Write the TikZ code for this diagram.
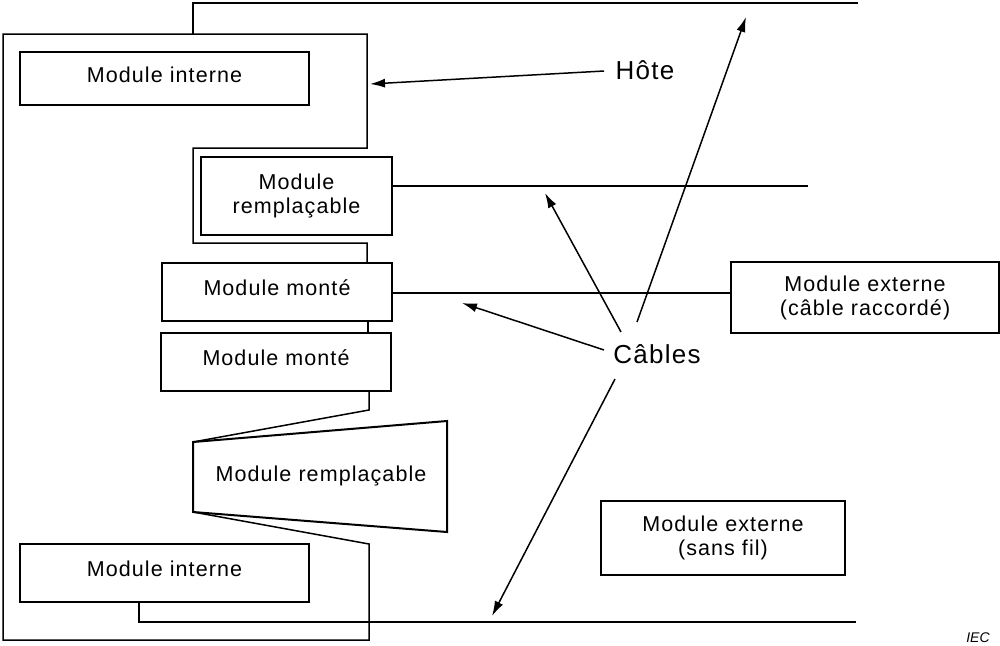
\documentclass[tikz,border=0pt]{standalone}
\usepackage{fontspec}
\setmainfont{Liberation Sans}
\newfontfamily\modfont[LetterSpace=5]{Liberation Sans}
\usetikzlibrary{arrows.meta}
\begin{document}
\begin{tikzpicture}[x=1pt,y=-1pt,
  box/.style={draw,line width=2pt,inner sep=0pt,align=center,font=\modfont\fontsize{21.5}{24}\selectfont},
  oneline/.style={text depth=8pt},
  wire/.style={line width=1.5pt},
  lbl/.style={inner sep=0pt,font=\modfont\fontsize{26}{30}\selectfont},
  pointer/.style={line width=1.5pt,-{Latex[length=15pt,width=9pt]}}]
\useasboundingbox (0,0) rectangle (1000,645);
% host outline
\draw[wire] (367,263) -- (367,243) -- (193,243) -- (193,148) -- (367,148) -- (367,34) -- (3,34) -- (3,640) -- (369,640) -- (369,544) -- (193,512);
\draw[wire] (193,442) -- (369,410) -- (369,391);
\draw[wire] (368,321) -- (368,333);
% top cable
\draw[wire] (193,34) -- (193,3) -- (858,3);
% modules
\node[box,oneline,minimum width=289pt,minimum height=53pt] (mi1) at (164.5,78.5) {Module interne};
\node[box,minimum width=191pt,minimum height=78pt] (mr) at (296.5,196) {Module\\remplaçable};
\node[box,oneline,minimum width=230pt,minimum height=58pt] (mm1) at (277,292) {Module monté};
\node[box,oneline,minimum width=230pt,minimum height=58pt] (mm2) at (276,362) {Module monté};
\node[box,oneline,minimum width=289pt,minimum height=58pt] (mi2) at (164.5,573) {Module interne};
\node[box,minimum width=268pt,minimum height=71pt] (me1) at (865,297.5) {Module externe\\(câble raccordé)};
\node[box,minimum width=244pt,minimum height=74pt] (me2) at (723,538) {Module externe\\(sans fil)};
% trapezoid replaceable module
\draw[line width=2pt,line join=miter] (193,442) -- (447,421) -- (447,532) -- (193,512) -- cycle;
\node[inner sep=0pt,font=\modfont\fontsize{21.5}{24}\selectfont] (mrt) at (321,476) {Module remplaçable};
% cables
\coordinate (c2) at (808,186);
\draw[wire] (mr.east |- c2) -- (c2);
\draw[wire] (mm1.east) ++(0,1) coordinate (m1e) -- (m1e -| me1.west);
\coordinate (c4a) at (139,602);
\coordinate (c4b) at (856,622);
\draw[wire] (c4a) -- (c4a |- c4b) -- (c4b);
% labels
\node[lbl] (hote) at (645,70) {Hôte};
\node[lbl] (cables) at (657,354) {Câbles};
\node[inner sep=0pt,font=\itshape\fontsize{14}{16}\selectfont] (iec) at (978,638) {IEC};
% pointers
\coordinate (h0) at (604,71);
\coordinate (h1) at (370,84);
\draw[pointer] (h0) -- (h1);
\coordinate (p1s) at (637,322);
\coordinate (p1e) at (746,17);
\draw[pointer] (p1s) -- (p1e);
\coordinate (p2s) at (621,332);
\coordinate (p2e) at (545,193);
\draw[pointer] (p2s) -- (p2e);
\coordinate (p3s) at (604,350);
\coordinate (p3e) at (462,303);
\draw[pointer] (p3s) -- (p3e);
\coordinate (p4s) at (615,379);
\coordinate (p4e) at (492,616);
\draw[pointer] (p4s) -- (p4e);
\end{tikzpicture}
\end{document}
